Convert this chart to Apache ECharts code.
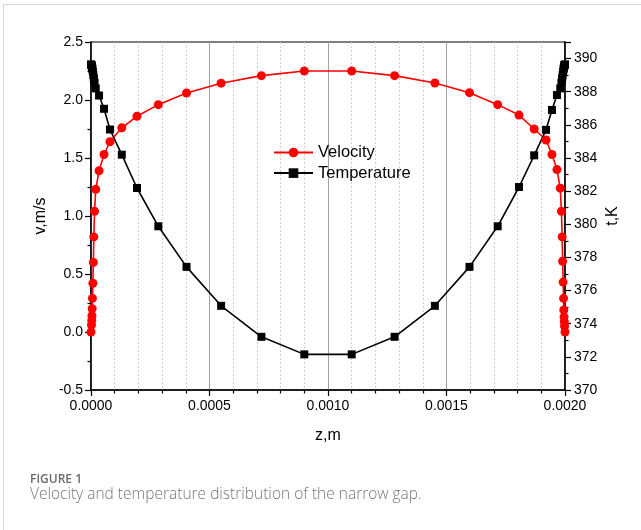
<!DOCTYPE html>
<html>
<head>
<meta charset="utf-8">
<script src="https://cdn.jsdelivr.net/npm/echarts@6/dist/echarts.min.js"></script>
<style>
  html, body { margin: 0; padding: 0; background: #fff; }
  #wrap { position: relative; width: 641px; height: 530px; overflow: hidden; }
  #frame { position: absolute; left: 3px; top: 4px; width: 700px; height: 600px;
           border-left: 1px solid #d6d6d6; border-top: 1px solid #d6d6d6; }
  #chart { position: absolute; left: 0; top: 0; width: 641px; height: 530px; }
  .fig { position: absolute; left: 30px; top: 470px; font-family: "Open Sans", sans-serif;
         font-size: 12px; font-weight: 600; color: #6a6a6a; }
  .cap { position: absolute; left: 30px; top: 482px; font-family: "Open Sans", sans-serif;
         font-size: 15.5px; font-weight: 300; color: #777; white-space: nowrap; }
</style>
</head>
<body>
<div id="wrap">
  <div id="frame"></div>
  <div id="chart"></div>
  <div class="fig">FIGURE 1</div>
  <div class="cap">Velocity and temperature distribution of the narrow gap.</div>
</div>
<script>
// position across the gap, m
const zPos = [
  0, 0.000002, 0.000003, 0.000004, 0.000005, 0.000006, 0.000008, 0.00001, 0.000012, 0.000015,
  0.00002, 0.000034, 0.000055, 0.00008, 0.00013, 0.000194, 0.000284, 0.000403, 0.000549, 0.000719,
  0.0009, 0.0011, 0.001281, 0.001451, 0.001597, 0.001716, 0.001806, 0.00187, 0.00192, 0.001945,
  0.001966, 0.00198, 0.001985, 0.001988, 0.00199, 0.001992, 0.001994, 0.001995, 0.001996, 0.001997,
  0.001998, 0.002
]
// v, m/s
const velocity = [
  0, 0.06, 0.10, 0.14, 0.20, 0.29, 0.42, 0.60, 0.82, 1.04,
  1.23, 1.39, 1.53, 1.64, 1.76, 1.86, 1.96, 2.06, 2.145, 2.21,
  2.25, 2.25, 2.21, 2.147, 2.063, 1.96, 1.87, 1.75, 1.655, 1.53,
  1.40, 1.24, 1.04, 0.82, 0.61, 0.43, 0.29, 0.19, 0.13, 0.09,
  0.05, 0
]
// t, K
const temperature = [
  389.65, 389.62, 389.58, 389.52, 389.45, 389.35, 389.2, 389.0, 388.8, 388.55,
  388.2, 387.77, 386.97, 385.72, 384.2, 382.19, 379.88, 377.43, 375.08, 373.21,
  372.15, 372.15, 373.21, 375.08, 377.43, 379.88, 382.25, 384.16, 385.7, 386.9,
  387.8, 388.2, 388.55, 388.8, 389.0, 389.2, 389.35, 389.45, 389.52, 389.58,
  389.62, 389.65
]
const seriesNames = ['Velocity', 'Temperature']

const FONT = '"Liberation Sans", Arial, sans-serif'
const chart = echarts.init(document.getElementById('chart'))

const axisCommon = {
  axisLine: { show: true, onZero: false, lineStyle: { color: '#000', width: 1.5 } },
  axisTick: { show: true, inside: false, length: 6, lineStyle: { color: '#000', width: 1.2 } },
  minorTick: { show: true, length: 3.5, lineStyle: { color: '#000', width: 1.2 } },
  axisLabel: { color: '#000', fontSize: 14, fontFamily: FONT },
  nameTextStyle: { color: '#000', fontSize: 16, fontFamily: FONT },
  nameMoveOverlap: false
}

chart.setOption({
  animation: false,
  grid: {
    left: 91, right: 76, top: 42, bottom: 140,
    show: true, borderColor: '#000', borderWidth: 1.2, backgroundColor: 'transparent'
  },
  legend: {
    data: seriesNames,
    orient: 'vertical',
    left: 273,
    top: 144,
    padding: 0,
    itemWidth: 39,
    itemHeight: 12,
    itemGap: 3.6,
    textStyle: { color: '#000', fontSize: 16.5, lineHeight: 17, fontFamily: FONT }
  },
  xAxis: {
    type: 'value',
    min: 0,
    max: 0.002,
    interval: 0.0005,
    ...axisCommon,
    minorTick: { ...axisCommon.minorTick, splitNumber: 5 },
    splitLine: { show: true, lineStyle: { color: '#a0a0a0', width: 1 } },
    minorSplitLine: { show: true, lineStyle: { color: '#d0d0d0', width: 1, type: [2, 2] } },
    axisLabel: { ...axisCommon.axisLabel, margin: 9, formatter: v => v.toFixed(4) },
    name: 'z,m',
    nameLocation: 'middle',
    nameGap: 38
  },
  yAxis: [
    {
      type: 'value',
      position: 'left',
      min: -0.5,
      max: 2.5,
      interval: 0.5,
      ...axisCommon,
      minorTick: { ...axisCommon.minorTick, splitNumber: 2 },
      splitLine: { show: false },
      axisLabel: { ...axisCommon.axisLabel, margin: 8, formatter: v => v.toFixed(1) },
      name: 'v,m/s',
      nameLocation: 'middle',
      nameRotate: 90,
      nameGap: 42
    },
    {
      type: 'value',
      position: 'right',
      min: 370,
      max: 391,
      interval: 2,
      ...axisCommon,
      minorTick: { ...axisCommon.minorTick, splitNumber: 2 },
      splitLine: { show: false },
      axisLabel: { ...axisCommon.axisLabel, margin: 9, showMaxLabel: false,
        formatter: v => (v % 2 === 0 ? String(v) : '') },
      name: 't,K',
      nameLocation: 'middle',
      nameRotate: 90,
      nameGap: 40
    }
  ],
  series: [
    {
      name: seriesNames[0],
      type: 'line',
      yAxisIndex: 0,
      symbol: 'circle',
      symbolSize: 9,
      clip: false,
      itemStyle: { color: '#ff0000' },
      lineStyle: { color: '#ff0000', width: 1.6 },
      data: zPos.map((z, i) => [z, velocity[i]])
    },
    {
      name: seriesNames[1],
      type: 'line',
      yAxisIndex: 1,
      symbol: 'rect',
      symbolSize: 8,
      clip: false,
      itemStyle: { color: '#000' },
      lineStyle: { color: '#000', width: 1.6 },
      data: zPos.map((z, i) => [z, temperature[i]])
    }
  ]
})
</script>
</body>
</html>
